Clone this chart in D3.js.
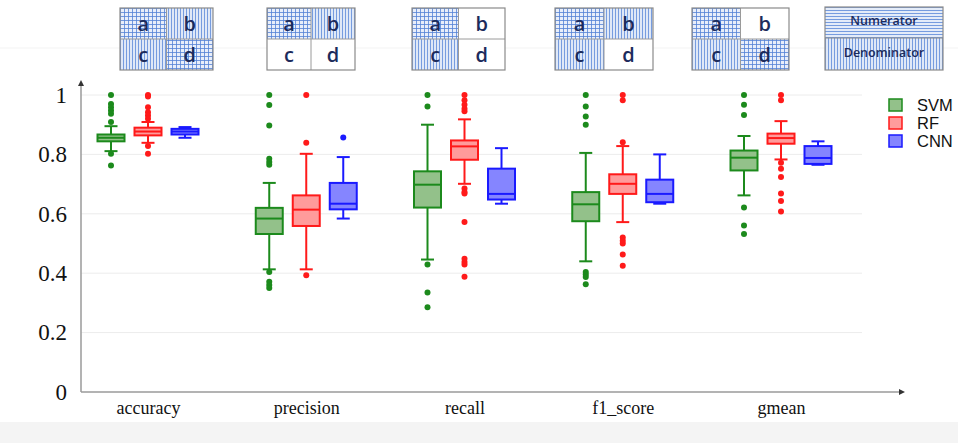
<!DOCTYPE html>
<html>
<head>
<meta charset="utf-8">
<script src="https://cdn.jsdelivr.net/npm/d3@7"></script>
<style>
  body { margin: 0; background: #fff; overflow: hidden; }
</style>
</head>
<body>
<script>
// categories and models
const categories = ["accuracy", "precision", "recall", "f1_score", "gmean"];
const models = ["SVM", "RF", "CNN"];
const yTicks = [0, 0.2, 0.4, 0.6, 0.8, 1];

// [lower whisker, q1, median, q3, upper whisker] per category
const svmStats = [
    [0.811, 0.844, 0.856, 0.867, 0.895],
    [0.413, 0.532, 0.584, 0.620, 0.704],
    [0.446, 0.621, 0.698, 0.743, 0.900],
    [0.440, 0.575, 0.632, 0.673, 0.805],
    [0.662, 0.746, 0.789, 0.813, 0.862]
];
const rfStats = [
    [0.839, 0.864, 0.877, 0.890, 0.909],
    [0.413, 0.559, 0.614, 0.662, 0.802],
    [0.701, 0.782, 0.827, 0.847, 0.918],
    [0.572, 0.667, 0.701, 0.733, 0.828],
    [0.783, 0.836, 0.855, 0.870, 0.912]
];
const cnnStats = [
    [0.856, 0.867, 0.877, 0.886, 0.892],
    [0.584, 0.615, 0.634, 0.704, 0.791],
    [0.634, 0.648, 0.667, 0.752, 0.821],
    [0.634, 0.639, 0.667, 0.715, 0.800],
    [0.765, 0.768, 0.788, 0.828, 0.844]
];

// outliers per category
const svmOutliers = [
    [1.0, 0.97, 0.959, 0.948, 0.937, 0.909, 0.802, 0.763],
    [1.0, 0.966, 0.897, 0.785, 0.774, 0.765, 0.404, 0.371, 0.36, 0.35],
    [1.0, 0.961, 0.429, 0.335, 0.285],
    [1.0, 0.961, 0.928, 0.900, 0.404, 0.396, 0.387, 0.363],
    [1.0, 0.967, 0.933, 0.621, 0.561, 0.532]
];
const rfOutliers = [
    [1.0, 0.995, 0.959, 0.942, 0.931, 0.920, 0.828, 0.802],
    [1.0, 0.839, 0.393],
    [1.0, 0.982, 0.967, 0.954, 0.945, 0.685, 0.673, 0.668, 0.572, 0.449, 0.438, 0.429, 0.388],
    [1.0, 0.982, 0.841, 0.520, 0.509, 0.500, 0.463, 0.425],
    [1.0, 0.982, 0.772, 0.752, 0.724, 0.668, 0.643, 0.608]
];
const cnnOutliers = [
    [],
    [0.857],
    [],
    [],
    []
];

// header diagrams: fill of cells a, b, c, d
const diagramCells = [
    ["grid", "vert", "vert", "grid"],
    ["grid", "vert", "none", "none"],
    ["grid", "none", "vert", "none"],
    ["grid", "vert", "vert", "none"],
    ["grid", "none", "vert", "grid"]
];
const cellLetters = ["a", "b", "c", "d"];

const chart = {
    width: 958,
    height: 443,
    axisX: 81,
    yTop: 95,
    yBottom: 392,
    gridRight: 862,
    arrowRight: 905,
    boxWidth: 27,
    capWidth: 13
};
const colors = {
    SVM: { stroke: "#1c8a1c", fill: "#93c18a" },
    RF: { stroke: "#ff1a1a", fill: "#ff9b9b" },
    CNN: { stroke: "#1a1aff", fill: "#8585ff" }
};
const diagramX = [120, 267, 412, 555, 692];
const diagramW = [93, 88, 93, 98, 97];

const svg = d3.select("body").append("svg")
    .attr("width", chart.width)
    .attr("height", chart.height);

// patterns for the header diagrams
const defs = svg.append("defs");
const grid = defs.append("pattern").attr("id", "grid")
    .attr("width", 4).attr("height", 4).attr("patternUnits", "userSpaceOnUse");
grid.append("rect").attr("width", 4).attr("height", 4).attr("fill", "#e8eefa");
grid.append("path").attr("d", "M0.5,0V4M0,0.5H4")
    .attr("stroke", "#5482d6").attr("stroke-width", 0.8);
const vert = defs.append("pattern").attr("id", "vert")
    .attr("width", 3).attr("height", 3).attr("patternUnits", "userSpaceOnUse");
vert.append("rect").attr("width", 3).attr("height", 3).attr("fill", "#dfe8f7");
vert.append("path").attr("d", "M0.5,0V3")
    .attr("stroke", "#6a93dc").attr("stroke-width", 0.9);
const horiz = defs.append("pattern").attr("id", "horiz")
    .attr("width", 3).attr("height", 3).attr("patternUnits", "userSpaceOnUse");
horiz.append("rect").attr("width", 3).attr("height", 3).attr("fill", "#e4ecf9");
horiz.append("path").attr("d", "M0,0.5H3")
    .attr("stroke", "#6a93dc").attr("stroke-width", 0.9);

// background bits
svg.append("rect").attr("x", 0).attr("y", 422).attr("width", chart.width).attr("height", 21)
    .attr("fill", "#f4f4f4");
svg.append("line").attr("x1", 0).attr("x2", chart.width).attr("y1", 48).attr("y2", 48)
    .attr("stroke", "#f3f3f3");

// diagrams
diagramCells.forEach((cells, k) => {
    const x0 = diagramX[k], y0 = 8, w = diagramW[k], h = 62;
    const g = svg.append("g").attr("transform", "translate(" + x0 + "," + y0 + ")");
    cells.forEach((c, i) => {
        const cx = (i % 2) * w / 2, cy = Math.floor(i / 2) * h / 2;
        g.append("rect").attr("x", cx).attr("y", cy).attr("width", w / 2).attr("height", h / 2)
            .attr("fill", c === "none" ? "#fff" : "url(#" + c + ")");
        g.append("text").attr("x", cx + w / 4).attr("y", cy + h / 4 + 7)
            .attr("text-anchor", "middle")
            .style("font-family", "'Open Sans', Lato, sans-serif")
            .style("font-size", "20px")
            .style("font-weight", "600")
            .attr("fill", "#1c2b5c")
            .text(cellLetters[i]);
    });
    g.append("path").attr("d", "M" + w / 2 + ",0V" + h + "M0," + h / 2 + "H" + w)
        .attr("stroke", "#9a9a9a").attr("stroke-width", 1);
    g.append("rect").attr("width", w).attr("height", h)
        .attr("fill", "none").attr("stroke", "#8a8a8a").attr("stroke-width", 1.2);
});

// numerator / denominator key
const key = svg.append("g").attr("transform", "translate(825,7)");
key.append("rect").attr("width", 118).attr("height", 31).attr("fill", "url(#horiz)");
key.append("rect").attr("y", 31).attr("width", 118).attr("height", 32).attr("fill", "url(#vert)");
key.append("line").attr("x1", 0).attr("x2", 118).attr("y1", 31).attr("y2", 31).attr("stroke", "#8a8a8a");
key.append("rect").attr("width", 118).attr("height", 63)
    .attr("fill", "none").attr("stroke", "#8a8a8a").attr("stroke-width", 1.2);
[["Numerator", 14], ["Denominator", 46]].forEach(([t, yy]) => {
    key.append("text").attr("x", 59).attr("y", yy + 4).attr("text-anchor", "middle")
        .style("font-family", "'Open Sans', Lato, sans-serif").style("font-size", "12.5px")
        .style("font-weight", "600")
        .attr("fill", "#1c2b5c").text(t);
});

// scales
const y = d3.scaleLinear().domain([0, 1]).range([chart.yBottom, chart.yTop]);
const x = d3.scalePoint().domain(categories).range([148, 781]);
const sub = d3.scalePoint().domain(models).range([-37, 37]);

// grid lines
svg.append("g").selectAll("line")
    .data(yTicks.filter(t => t > 0))
    .enter().append("line")
    .attr("x1", chart.axisX).attr("x2", chart.gridRight)
    .attr("y1", d => y(d)).attr("y2", d => y(d))
    .attr("stroke", "#ececec").attr("stroke-width", 1);

// y axis
const yAxis = d3.axisLeft(y).tickValues(yTicks).tickSize(0).tickPadding(14)
    .tickFormat(d => d === 0 || d === 1 ? d3.format("d")(d) : d3.format(".1f")(d));
const yg = svg.append("g").attr("transform", "translate(" + chart.axisX + ",0)").call(yAxis);
yg.select(".domain").remove();
yg.selectAll("text")
    .style("font-family", "'Liberation Serif', 'DejaVu Serif', serif")
    .style("font-size", "23px").attr("fill", "#111");

// x axis labels
const xAxis = d3.axisBottom(x).tickSize(0).tickPadding(9);
const xg = svg.append("g").attr("transform", "translate(0," + chart.yBottom + ")").call(xAxis);
xg.select(".domain").remove();
xg.selectAll("text")
    .style("font-family", "'Liberation Serif', 'DejaVu Serif', serif")
    .style("font-size", "18px").attr("fill", "#111");

// axis lines with arrows
svg.append("line").attr("x1", chart.axisX).attr("x2", chart.axisX)
    .attr("y1", chart.yBottom).attr("y2", 82)
    .attr("stroke", "#9a9a9a").attr("stroke-width", 1.5);
svg.append("path").attr("d", "M" + chart.axisX + ",80l-3,6h6z").attr("fill", "#333");
svg.append("line").attr("x1", chart.axisX).attr("x2", chart.arrowRight - 2)
    .attr("y1", chart.yBottom).attr("y2", chart.yBottom)
    .attr("stroke", "#9a9a9a").attr("stroke-width", 1.5);
svg.append("path").attr("d", "M" + chart.arrowRight + "," + chart.yBottom + "l-6,-3v6z").attr("fill", "#333");

// boxes
const statsByModel = { SVM: svmStats, RF: rfStats, CNN: cnnStats };
const outliersByModel = { SVM: svmOutliers, RF: rfOutliers, CNN: cnnOutliers };
const rows = [];
models.forEach(m => categories.forEach((c, i) => {
    rows.push({ model: m, cat: c, s: statsByModel[m][i], out: outliersByModel[m][i] });
}));

const boxes = svg.append("g").selectAll("g")
    .data(rows).enter().append("g")
    .attr("transform", d => "translate(" + (x(d.cat) + sub(d.model)) + ",0)");

const bw = chart.boxWidth, cw = chart.capWidth;
boxes.append("line")
    .attr("y1", d => y(d.s[0])).attr("y2", d => y(d.s[1]))
    .attr("stroke", d => colors[d.model].stroke).attr("stroke-width", 2);
boxes.append("line")
    .attr("y1", d => y(d.s[3])).attr("y2", d => y(d.s[4]))
    .attr("stroke", d => colors[d.model].stroke).attr("stroke-width", 2);
boxes.selectAll(".cap")
    .data(d => [d.s[0], d.s[4]].map(v => ({ v: v, model: d.model })))
    .enter().append("line")
    .attr("x1", -cw / 2).attr("x2", cw / 2)
    .attr("y1", d => y(d.v)).attr("y2", d => y(d.v))
    .attr("stroke", d => colors[d.model].stroke).attr("stroke-width", 2);
boxes.append("rect")
    .attr("x", -bw / 2).attr("width", bw)
    .attr("y", d => y(d.s[3])).attr("height", d => y(d.s[1]) - y(d.s[3]))
    .attr("fill", d => colors[d.model].fill)
    .attr("stroke", d => colors[d.model].stroke).attr("stroke-width", 2);
boxes.append("line")
    .attr("x1", -bw / 2).attr("x2", bw / 2)
    .attr("y1", d => y(d.s[2])).attr("y2", d => y(d.s[2]))
    .attr("stroke", d => colors[d.model].stroke).attr("stroke-width", 2);
boxes.selectAll("circle")
    .data(d => d.out.map(v => ({ v: v, model: d.model })))
    .enter().append("circle")
    .attr("r", 3)
    .attr("cy", d => y(d.v))
    .attr("fill", d => colors[d.model].stroke);

// legend
const legend = svg.append("g").attr("transform", "translate(888,98)");
models.forEach((m, i) => {
    const row = legend.append("g").attr("transform", "translate(0," + i * 18 + ")");
    row.append("rect").attr("x", 1).attr("y", 1).attr("width", 13).attr("height", 12)
        .attr("fill", colors[m].fill).attr("stroke", colors[m].stroke).attr("stroke-width", 1.5);
    row.append("text").attr("x", 29).attr("y", 13)
        .style("font-family", "'Liberation Sans', Arial, sans-serif")
        .style("font-size", "16.5px").attr("fill", "#111").text(m);
});
</script>
</body>
</html>
